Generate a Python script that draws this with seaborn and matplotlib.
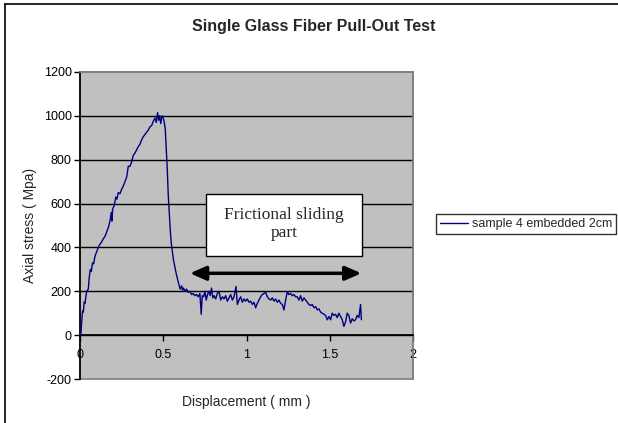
import matplotlib
matplotlib.use("Agg")
import matplotlib.pyplot as plt
import seaborn as sns
import pandas as pd
from matplotlib.patches import Rectangle
from matplotlib.lines import Line2D

title = "Single Glass Fiber Pull-Out Test"
series_label = "sample 4 embedded 2cm"
x_label = "Displacement ( mm )"
y_label = "Axial stress ( Mpa)"
annotation_text = "Frictional sliding\npart"
x_ticks = [0, 0.5, 1, 1.5, 2]
x_tick_labels = ["0", "0.5", "1", "1.5", "2"]
y_ticks = [-200, 0, 200, 400, 600, 800, 1000, 1200]

displacement = [
    0.000, 0.006, 0.010, 0.015, 0.020, 0.025, 0.030, 0.040, 0.050, 0.055,
    0.062, 0.068, 0.075, 0.082, 0.090, 0.100, 0.110, 0.120, 0.130, 0.140,
    0.150, 0.160, 0.170, 0.180, 0.188, 0.192, 0.196, 0.205, 0.215, 0.222,
    0.230, 0.240, 0.250, 0.260, 0.270, 0.280, 0.290, 0.300, 0.310, 0.320,
    0.330, 0.340, 0.350, 0.360, 0.370, 0.380, 0.390, 0.400, 0.410, 0.420,
    0.430, 0.440, 0.450, 0.458, 0.466, 0.472, 0.478, 0.485, 0.492, 0.500,
    0.505, 0.512, 0.518, 0.524, 0.530, 0.536, 0.542, 0.548, 0.555, 0.562,
    0.570, 0.578, 0.586, 0.594, 0.602, 0.610, 0.616, 0.622, 0.630, 0.640,
    0.650, 0.660, 0.670, 0.680, 0.690, 0.700, 0.710, 0.720, 0.728, 0.734,
    0.742, 0.750, 0.758, 0.766, 0.774, 0.782, 0.790, 0.798, 0.806, 0.815,
    0.825, 0.835, 0.845, 0.855, 0.865, 0.875, 0.885, 0.895, 0.905, 0.915,
    0.925, 0.937, 0.945, 0.955, 0.965, 0.975, 0.985, 0.995, 1.005, 1.015,
    1.025, 1.035, 1.045, 1.055, 1.065, 1.075, 1.085, 1.095, 1.105, 1.115,
    1.125, 1.135, 1.145, 1.155, 1.165, 1.175, 1.185, 1.195, 1.205, 1.215,
    1.225, 1.235, 1.245, 1.255, 1.265, 1.275, 1.285, 1.295, 1.305, 1.315,
    1.325, 1.335, 1.345, 1.355, 1.365, 1.375, 1.385, 1.395, 1.405, 1.415,
    1.425, 1.435, 1.445, 1.455, 1.465, 1.475, 1.485, 1.495, 1.505, 1.515,
    1.525, 1.535, 1.545, 1.555, 1.565, 1.575, 1.585, 1.595, 1.605, 1.615,
    1.625, 1.635, 1.645, 1.655, 1.665, 1.675, 1.685, 1.690,
]
stress = [
    0, 10, 60, 110, 105, 150, 145, 200, 210, 260,
    300, 290, 330, 325, 360, 380, 400, 415, 425, 440,
    450, 470, 490, 520, 560, 520, 575, 590, 630, 620,
    650, 645, 665, 680, 700, 720, 770, 770, 790, 820,
    830, 845, 860, 870, 890, 905, 915, 925, 935, 950,
    955, 975, 990, 970, 1015, 980, 1000, 965, 1000, 990,
    975, 940, 850, 760, 640, 560, 480, 420, 380, 340,
    310, 280, 255, 230, 210, 225, 205, 215, 200, 210,
    195, 200, 185, 190, 180, 185, 175, 190, 95, 180,
    175, 200, 160, 185, 200, 180, 215, 170, 180, 165,
    190, 200, 160, 175, 165, 180, 155, 170, 185, 160,
    175, 222, 140, 160, 175, 150, 165, 155, 165, 150,
    155, 140, 150, 125, 145, 160, 175, 185, 190, 195,
    175, 165, 160, 170, 155, 165, 150, 160, 145, 140,
    115, 160, 198, 185, 190, 180, 185, 175, 175, 160,
    180, 155, 170, 160, 150, 140, 135, 140, 125, 130,
    115, 120, 105, 100, 95, 90, 70, 85, 70, 100,
    90, 95, 80, 100, 85, 70, 40, 60, 100, 90,
    55, 75, 65, 70, 90, 80, 140, 70,
]

df = pd.DataFrame({"Displacement": displacement, "Stress": stress,
                   "Series": series_label})

sns.set_theme(style="white")
plt.rcParams["font.family"] = ["Liberation Sans", "DejaVu Sans"]
plt.rcParams["axes.unicode_minus"] = False

fig = plt.figure(figsize=(6.18, 4.23), dpi=100)
fig.patch.set_facecolor("white")
ax = fig.add_axes([80 / 618, 1 - 379 / 423, 333 / 618, 307 / 423])
ax.set_facecolor("#C0C0C0")

# gridlines
for yv in y_ticks:
    if -200 < yv < 1200:
        ax.axhline(yv, color="black", lw=1, zorder=1)

sns.lineplot(data=df, x="Displacement", y="Stress", hue="Series",
             palette=["#000080"], estimator=None, sort=False, lw=1,
             ax=ax, zorder=3, legend=True)

ax.set_xlim(0, 2)
ax.set_ylim(-200, 1200)
ax.set_xticks(x_ticks)
ax.set_xticklabels(x_tick_labels)
ax.set_yticks(y_ticks)

for s in ["top", "right"]:
    ax.spines[s].set_color("#808080")
    ax.spines[s].set_linewidth(1.2)
ax.spines["left"].set_color("black")
ax.spines["bottom"].set_color("black")
ax.spines["bottom"].set_position(("data", 0))
ax.add_patch(Rectangle((0, 0), 1, 1, transform=ax.transAxes, fill=False,
                       edgecolor="#808080", lw=1.2, zorder=0.5, clip_on=False))
ax.tick_params(axis="both", labelsize=9, colors="black", length=4, width=1)
ax.tick_params(axis="x", direction="out", pad=6)
ax.tick_params(axis="y", direction="out", pad=2)
ax.xaxis.set_ticks_position("bottom")
ax.yaxis.set_ticks_position("left")

ax.set_xlabel("")
ax.set_ylabel("")
fig.text((80 + 413) / 2 / 618, 1 - 402 / 423, x_label, ha="center",
         va="center", fontsize=10)
fig.text(30 / 618, 1 - 225 / 423, y_label, ha="center", va="center",
         rotation=90, fontsize=10)
fig.text(314 / 618, 1 - 27 / 423, title, ha="center", va="center",
         fontsize=11.5, fontweight="bold")

# annotation box & arrow
ax.add_patch(Rectangle((0.757, 360), 0.937, 282, facecolor="white",
                       edgecolor="black", lw=1, zorder=4))
ax.text(1.2255, 506, annotation_text, ha="center", va="center",
        fontsize=12.5, family=["Liberation Serif", "DejaVu Serif"], zorder=5,
        linespacing=1.15)
ax.annotate("", xy=(0.66, 282), xytext=(1.69, 282),
            arrowprops=dict(arrowstyle="<|-|>,head_length=0.8,head_width=0.35",
                            color="black", lw=2.5, shrinkA=0, shrinkB=0),
            zorder=5)

# legend outside
handles, labels = ax.get_legend_handles_labels()
ax.get_legend().remove()
leg = fig.legend(handles, labels, loc="center left",
                 bbox_to_anchor=(436 / 618, 1 - 224 / 423), frameon=True,
                 fontsize=9, handlelength=2.2, handletextpad=0.3,
                 borderpad=0.35, borderaxespad=0)
leg.get_frame().set_edgecolor("black")
leg.get_frame().set_linewidth(1)
leg.get_frame().set_boxstyle("square", pad=0)

# figure border (top and left only visible)
fig.add_artist(Line2D([5 / 618, 1.0], [1 - 4 / 423, 1 - 4 / 423],
                      transform=fig.transFigure, color="black", lw=1.2))
fig.add_artist(Line2D([5 / 618, 5 / 618], [0.0, 1 - 4 / 423],
                      transform=fig.transFigure, color="black", lw=1.2))

fig.savefig("out.png", dpi=100, facecolor="white")
